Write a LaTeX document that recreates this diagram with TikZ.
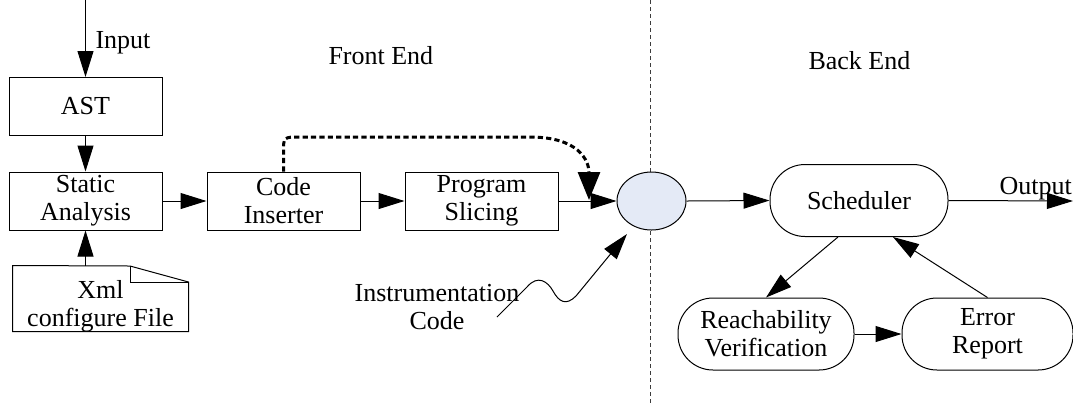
\documentclass[tikz,border=0pt]{standalone}
\usepackage{fontspec}
\setmainfont{Liberation Serif}
\usetikzlibrary{arrows.meta,shapes.geometric}
\definecolor{ellfill}{RGB}{228,234,246}
\definecolor{linegray}{RGB}{60,60,60}
\begin{document}
\begin{tikzpicture}[x=0.5pt,y=-0.5pt,
  font=\fontsize{13}{14}\selectfont,
  line width=0.5pt,
  arr/.style={-{Triangle[length=13pt 0 0,width=8pt 0 0]}},
  box/.style={draw, minimum width=76.5pt, minimum height=29pt, align=center, inner sep=0pt},
  pill/.style={draw, rounded corners=17.5pt, minimum height=36pt, align=center, inner sep=0pt},
  lbl/.style={align=center, inner sep=0pt},
  sep/.style={draw=linegray, dash pattern=on 2pt off 1.5pt, line width=0.5pt},
  dotarr/.style={line width=1.5pt, dash pattern=on 2.6pt off 1.6pt, -{Triangle[length=14pt 0 0,width=11pt 0 0]}}]
\useasboundingbox (0,0) rectangle (1073,404);

% separator
\draw[sep] (650,0) -- (650,404);

% labels
\node[lbl, anchor=base west] (inlbl) at (95,48) {Input};
\node[lbl, anchor=base west] (fe) at (328,64) {Front End};
\node[lbl, anchor=base west] (be) at (808,69) {Back End};
\node[lbl, anchor=base west] (outlbl) at (999,194) {Output};

% front end nodes
\node[box] (ast) at (85.5,106.5) {AST};
\node[box] (sa) at (85.5,201) {Static\\Analysis};
\node[box] (ci) at (283.5,201) {Code\\Inserter};
\node[box] (ps) at (481.5,201) {Program\\Slicing};
\node[ellipse, draw, fill=ellfill, minimum width=34.5pt, minimum height=29pt, inner sep=0pt] (el) at (651.5,201) {};

% document shape
\node[minimum width=87.5pt, minimum height=32.5pt, inner sep=0pt] (doc) at (100.5,298.5) {};
\draw (doc.north west) -- (130,266) -- (doc.north east |- 0,282) -- (doc.south east) -- (doc.south west) -- cycle;
\draw (130,266) -- (130,282) -- (doc.north east |- 0,282);
\node[lbl] (doctext) at (100.5,306) {Xml\\configure File};

% instrumentation
\node[lbl] (ic) at (437,307) {Instrumentation\\Code};

% back end nodes
\node[pill, minimum width=89pt] (sch) at (859,200.5) {Scheduler};
\node[pill, minimum width=88pt] (rv) at (766,334) {Reachability\\Verification};
\node[pill, minimum width=85.5pt] (er) at (987.5,334) {Error\\Report};

% coordinates
\coordinate (inp) at (85.5,0);
\coordinate (outc) at (1073,201);
\coordinate (dtip) at (589,200);
\coordinate (ws) at (497,317);
\coordinate (wtip) at (627,234);

% connectors
\draw[arr] (inp) -- (ast.north);
\draw[arr] (ast.south) -- (sa.north);
\draw[arr] (doc.north -| sa.south) -- (sa.south);
\draw[arr] (sa.east) -- (ci.west);
\draw[arr] (ci.east) -- (ps.west);
\draw[arr] (ps.east) -- (el.west);
\draw[dotarr] (ci.north) -- (283.5,152) .. controls (283.5,137) .. (300,137) -- (530,137) .. controls (578,137) and (589,160) .. (dtip);
\draw[arr] (ws) -- (527,287) .. controls (538,274) and (548,282) .. (553,291) .. controls (559,302) and (566,306) .. (576,296) -- (wtip);
\draw[arr] (el.east) -- (sch.west);
\draw[arr] (sch.east) -- (outc);
\draw[arr] ([xshift=-10.5pt]sch.south) -- (rv.north);
\draw[arr] (rv.east) -- (er.west);
\draw[arr] (er.north) -- ([xshift=17pt]sch.south);
\end{tikzpicture}
\end{document}
